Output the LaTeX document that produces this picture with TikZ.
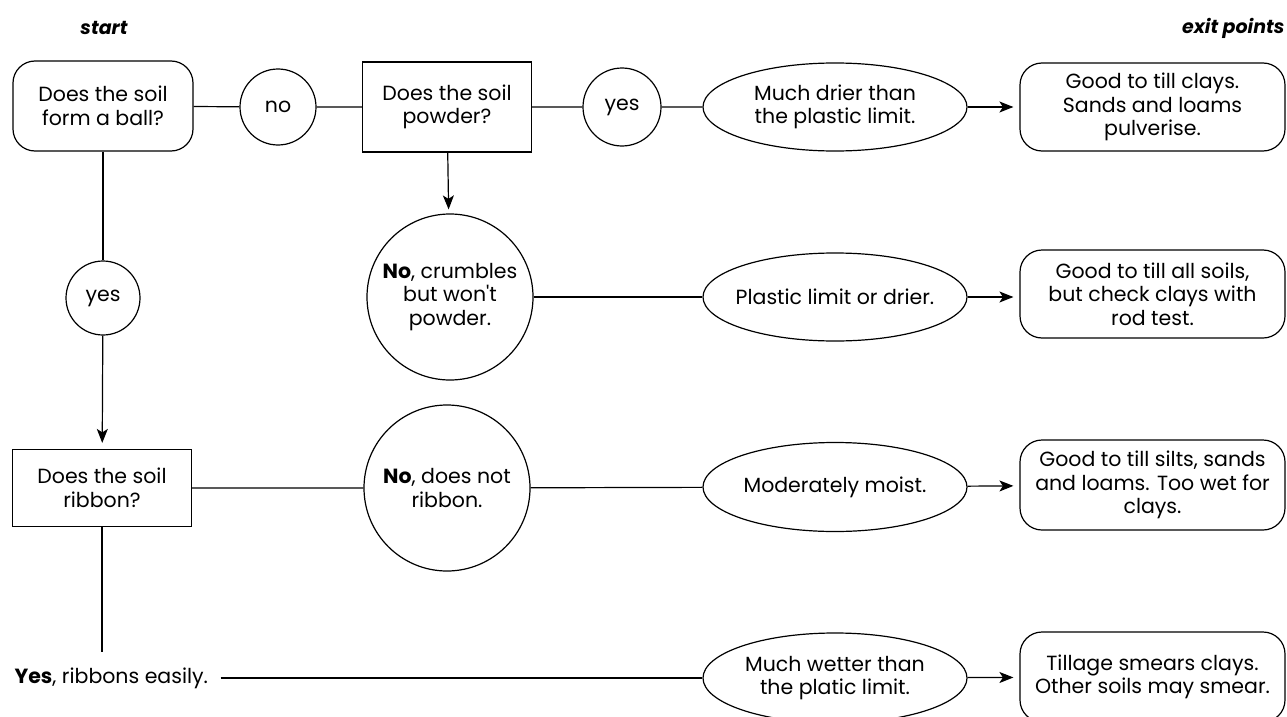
\documentclass[tikz,border=0pt]{standalone}
\usepackage{fontspec}
\setmainfont{Poppins}
\usetikzlibrary{arrows.meta,shapes.geometric}
\tikzset{
  every node/.style={font=\fontsize{20.5}{23.5}\selectfont, align=center, inner sep=0pt},
  qbox/.style={draw, minimum width=169pt, minimum height=90pt},
  rbox/.style={draw, rounded corners=22pt, minimum width=265pt, minimum height=88pt},
  answer/.style={draw, circle, minimum size=#1},
  state/.style={draw, ellipse, inner xsep=-10pt, minimum width=264pt, minimum height=88pt},
  flow/.style={line width=1.2pt},
  tip/.style={flow, -{Stealth[length=14pt,width=11pt,inset=3.5pt]}, shorten >=6pt},
}

\begin{document}
\begin{tikzpicture}[x=1pt, y=-1pt, line width=1.2pt]
		%%%%% FRAME %%%%%
		\clip (0,0) rectangle (1287,717);
		\useasboundingbox (0,0) rectangle (1287,717);

		\node[font=\fontsize{19}{22.5}\selectfont\bfseries\itshape] (start) at (104,28) {start};
		\node[font=\fontsize{19}{22.5}\selectfont\bfseries\itshape, anchor=east] (exits) at (1285,28) {exit points};

		%%%%% ROW 1 %%%%%
		\node[qbox, rounded corners=22pt, minimum width=180pt] (ball) at (103,106) {Does the soil\\form a ball?};
		\node[answer=76pt] (no) at (278,107) {no};
		\node[qbox] (powder) at (447,107) {Does the soil\\powder?};
		\node[answer=78pt] (yes) at (622,107) {yes};
		\node[state] (drier) at (835,107) {Much drier than\\the plastic limit.};
		\node[rbox] (exitA) at (1152.5,107) {Good to till clays.\\Sands and loams\\pulverise.};

		%%%%% ROW 2 %%%%%
		\node[answer=74pt] (yesball) at (103,298) {yes};
		\node[answer=166pt] (crumble) at (450,297) {\textbf{No}, crumbles\\but won\textquotesingle t\\powder.};
		\node[state] (plastic) at (835,297) {Plastic limit or drier.};
		\node[rbox] (exitB) at (1152.5,294) {Good to till all soils,\\but check clays with\\rod test.};

		%%%%% ROW 3 %%%%%
		\node[qbox, minimum width=179pt, minimum height=77pt] (ribbon) at (102,488) {Does the soil\\ribbon?};
		\node[answer=166pt] (noribbon) at (447,488) {\textbf{No}, does not\\ribbon.};
		\node[state, minimum height=89pt] (moist) at (835,487) {Moderately moist.};
		\node[rbox, minimum height=90pt] (exitC) at (1152.5,485) {Good to till silts, sands\\and loams. Too wet for\\clays.};

		%%%%% ROW 4 %%%%%
		\coordinate (ribbonend) at (102,652);
		\node[anchor=west] (easy) at (14,678) {\textbf{Yes}, ribbons easily.};
		\node[state, minimum height=90pt] (wetter) at (835,678) {Much wetter than\\the platic limit.};
		\node[rbox, minimum height=90pt] (exitD) at (1152.5,677) {Tillage smears clays.\\Other soils may smear.};

		%%%%% LINKS %%%%%
		\draw[flow] (ball) -- (no) -- (powder) -- (yes) -- (drier);
		\draw[tip] (drier) -- (exitA);
		\draw[flow] (ball) -- (yesball);
		\draw[tip] (yesball) -- (ribbon);
		\draw[tip, shorten >=4pt] (powder) -- (crumble);
		\draw[flow] (crumble) -- (plastic);
		\draw[tip] (plastic.east) -- (exitB.west |- plastic.east);
		\draw[flow] (ribbon) -- (noribbon) -- (moist);
		\draw[tip] (moist) -- (exitC);
		\draw[flow] (ribbon) -- (ribbonend);
		\draw[flow, shorten <=12pt] (easy) -- (wetter);
		\draw[tip] (wetter) -- (exitD);
		%%%%% END %%%%%
\end{tikzpicture}
\end{document}
